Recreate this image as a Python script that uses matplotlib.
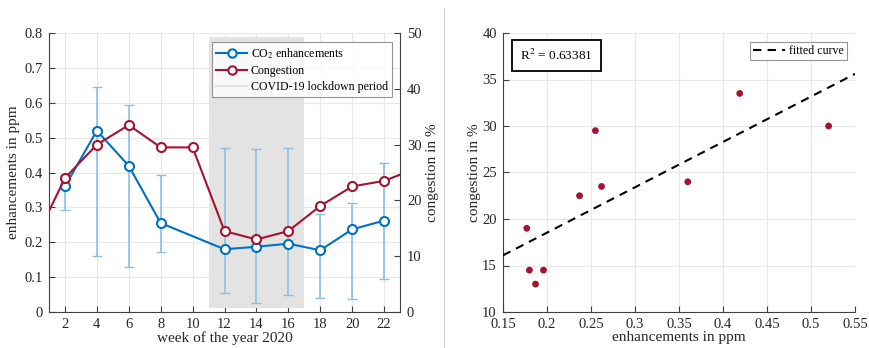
import numpy as np
import matplotlib
matplotlib.use("Agg")
import matplotlib.pyplot as plt
from matplotlib.lines import Line2D
from matplotlib.patches import Rectangle

plt.rcParams['font.family'] = ['Liberation Serif', 'DejaVu Serif']
plt.rcParams['mathtext.fontset'] = 'stix'
plt.rcParams['font.size'] = 10.5

# CO2 enhancements by week
co2_weeks = [2, 4, 6, 8, 12, 14, 16, 18, 20, 22]
co2_vals = [0.360, 0.520, 0.419, 0.255, 0.180, 0.187, 0.196, 0.177, 0.237, 0.262]
co2_low = [0.293, 0.161, 0.129, 0.172, 0.0535, 0.026, 0.049, 0.040, 0.037, 0.095]
co2_high = [0.380, 0.645, 0.594, 0.393, 0.470, 0.467, 0.470, 0.281, 0.313, 0.426]

# Congestion by week
cong_weeks = [0, 2, 4, 6, 8, 10, 12, 14, 16, 18, 20, 22, 24]
cong_vals = [12.2, 24.0, 30.0, 33.5, 29.5, 29.5, 14.5, 13.0, 14.5, 19.0, 22.5, 23.5, 25.7]

lockdown = (11, 17)
xticks_left = [2, 4, 6, 8, 10, 12, 14, 16, 18, 20, 22]

# scatter data (pairs)
sc_x = co2_vals
sc_y = [24.0, 30.0, 33.5, 29.5, 14.5, 13.0, 14.5, 19.0, 22.5, 23.5]
r2_text = r"R$^2$ = 0.63381"

blue = '#0072BD'
red = '#A2142F'
ebar = '#8dbfe3'
gridc = '#e8e8e8'
axc = '#404040'

fig = plt.figure(figsize=(8.69, 3.48), dpi=100)

def style(ax):
    for s in ['top', 'right']:
        ax.spines[s].set_visible(False)
    for s in ['left', 'bottom']:
        ax.spines[s].set_color(axc)
        ax.spines[s].set_linewidth(0.8)
    ax.tick_params(direction='in', length=4, width=0.8, color=axc, labelsize=10.5,
                   labelcolor='#262626', pad=4.5)
    ax.grid(True, color=gridc, linewidth=0.8)
    ax.set_axisbelow(True)

# Left plot
ax1 = fig.add_axes([49/869, 1-312/348, 351/869, 279/348])
style(ax1)
ax1.set_xlim(1, 23)
ax1.set_ylim(0, 0.8)
ax1.set_xticks(xticks_left)
ax1.set_yticks(np.arange(0, 0.81, 0.1))
ax1.set_yticklabels(['0'] + [f'{v:.1f}' for v in np.arange(0.1, 0.81, 0.1)])
ax1.add_patch(Rectangle((lockdown[0], 0.0105), lockdown[1]-lockdown[0], 0.789-0.0105,
                        facecolor='#e3e3e3', edgecolor='none', zorder=1))
co2 = np.array(co2_vals)
yerr = np.vstack([co2 - np.array(co2_low), np.array(co2_high) - co2])
ax1.errorbar(co2_weeks, co2_vals, yerr=yerr, fmt='none', ecolor=ebar, elinewidth=1.2,
             capsize=3.5, capthick=1.0, zorder=2)
ax1.plot(co2_weeks, co2_vals, '-o', color=blue, lw=1.5, ms=6.5, mfc='white', mew=1.5, zorder=4)
ax1.set_xlabel('week of the year 2020', fontsize=11, labelpad=0, color='#262626')
ax1.set_ylabel('enhancements in ppm', fontsize=11, labelpad=3, color='#262626')

ax2 = ax1.twinx()
for s in ['top', 'left', 'bottom']:
    ax2.spines[s].set_visible(False)
ax2.spines['right'].set_color(axc)
ax2.spines['right'].set_linewidth(0.8)
ax2.tick_params(direction='in', length=4, width=0.8, color=axc, labelsize=10.5,
                labelcolor='#262626', pad=5)
ax2.set_ylim(0, 50)
ax2.set_yticks(np.arange(0, 51, 10))
ax2.plot(cong_weeks, cong_vals, '-o', color=red, lw=1.5, ms=6.5, mfc='white', mew=1.5,
         zorder=5, clip_on=True)
ax2.set_ylabel('congestion in %', fontsize=11, labelpad=3, color='#262626')
ax2.set_xlim(1, 23)

handles = [Line2D([], [], color=blue, marker='o', mfc='white', mew=1.5, lw=1.5, ms=6),
           Line2D([], [], color=red, marker='o', mfc='white', mew=1.5, lw=1.5, ms=6),
           Line2D([], [], color='#e3e3e3', lw=1.5)]
labels = [r'CO$_2$ enhancements', 'Congestion', 'COVID-19 lockdown period']
leg = ax2.legend(handles, labels, loc='upper right', bbox_to_anchor=(0.977, 0.968),
                 fontsize=8.6, frameon=True, fancybox=False, edgecolor='#7a7a7a',
                 borderpad=0.35, labelspacing=0.35, handlelength=2.6, handletextpad=0.3,
                 borderaxespad=0)
leg.get_frame().set_linewidth(0.8)

# separator line
fig.add_artist(Line2D([444/869, 444/869], [0, 1-8/348], color='#d0d0d0', lw=0.8))

# Right plot
ax3 = fig.add_axes([503/869, 1-312/348, 352/869, 279/348])
style(ax3)
ax3.set_xlim(0.15, 0.55)
ax3.set_ylim(10, 40)
ax3.set_xticks(np.arange(0.15, 0.551, 0.05))
ax3.set_xticklabels(['0.15', '0.2', '0.25', '0.3', '0.35', '0.4', '0.45', '0.5', '0.55'])
ax3.set_yticks(np.arange(10, 41, 5))
ax3.scatter(sc_x, sc_y, s=24, color=red, zorder=3, edgecolors='none')
coef = np.polyfit(sc_x, sc_y, 1)
xf = np.array([0.15, 0.55])
ax3.plot(xf, np.polyval(coef, xf), '--', color='black', lw=1.5, dashes=(4, 3),
         label='fitted curve', zorder=4)
leg2 = ax3.legend(loc='upper right', bbox_to_anchor=(0.977, 0.968), fontsize=8.6,
                  frameon=True, fancybox=False, edgecolor='#7a7a7a', borderpad=0.25,
                  handlelength=2.7, handletextpad=0.3, borderaxespad=0)
leg2.get_frame().set_linewidth(0.8)
ax3.text(0.152, 0.92, r2_text, transform=ax3.transAxes, fontsize=9.5, va='center', ha='center',
         bbox=dict(boxstyle='square,pad=0.62', facecolor='white', edgecolor='black', linewidth=1.3))
ax3.set_xlabel('enhancements in ppm', fontsize=11, labelpad=0, color='#262626')
ax3.set_ylabel('congestion in %', fontsize=11, labelpad=1, color='#262626')

fig.savefig('out.png', dpi=100)
